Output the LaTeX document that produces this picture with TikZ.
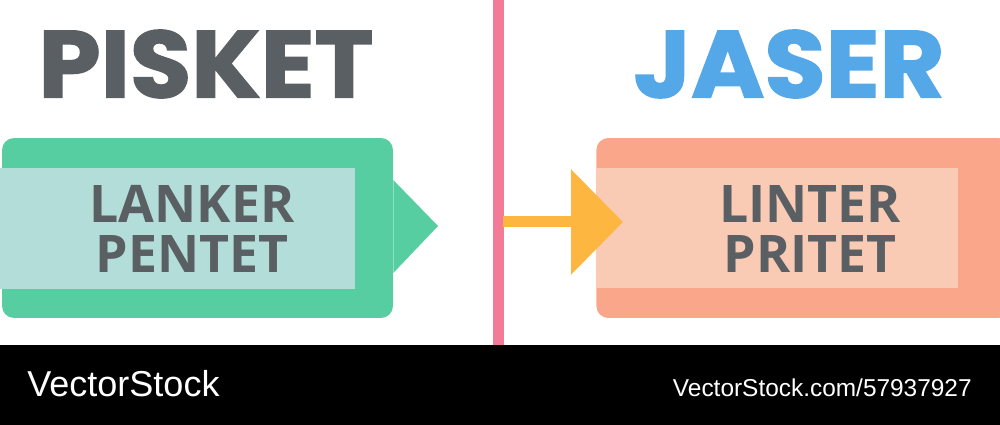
\documentclass[tikz,border=0pt]{standalone}
\usepackage{fontspec}
\setmainfont{Poppins}
\newfontfamily\titlefont{Poppins}[FakeBold=1.6]
\newfontfamily\boxfont{Open Sans}
\newfontfamily\stockfont{Liberation Sans}
\usetikzlibrary{positioning, arrows.meta}

\definecolor{inkgray}{HTML}{5A5F63}
\definecolor{jaserblue}{HTML}{55A8E8}
\definecolor{dividerpink}{HTML}{F47B98}
\definecolor{tabgreen}{HTML}{56CEA2}
\definecolor{tabteal}{HTML}{B3DDD8}
\definecolor{boxsalmon}{HTML}{F9A68A}
\definecolor{boxpeach}{HTML}{FACBB4}
\definecolor{arrowyellow}{HTML}{FDB63F}

\newcommand{\wide}[1]{\scalebox{1.05}[1]{#1}}

\begin{document}
\begin{tikzpicture}[%
    x=0.02cm, y=-0.02cm,        % one unit is one pixel of the sketch
    >={Triangle[length=1.04cm, width=2.06cm]},
    ]

\tikzset{
  title/.style={inner sep=0pt, font=\titlefont\bfseries\fontsize{54}{54}\selectfont},
  outerbox/.style={rounded corners=0.24cm, inner sep=0pt, minimum height=3.6cm},
  innerbox/.style={inner sep=0pt, minimum height=2.42cm},
  boxtext/.style={inner sep=0pt, align=center, text=inkgray,
    font=\boxfont\bfseries\fontsize{29.5}{28.5}\selectfont},
  arrowline/.style={draw=arrowyellow, fill=arrowyellow, line width=0.22cm}
  };

\useasboundingbox (0,0) rectangle (1000,425);

% bottom bar
\fill[black] (0,345) rectangle (1000,425);
\node[anchor=base west, inner sep=0pt, text=white,
  font=\stockfont\fontsize{20.5}{20.5}\selectfont] (stockname) at (27,396) {VectorStock};
\node[anchor=base east, inner sep=0pt, text=white,
  font=\stockfont\fontsize{13.9}{13.9}\selectfont] (stockref) at (972,396) {VectorStock.com/57937927};

% divider
\draw[dividerpink, line width=0.22cm] (498,0) -- (498,345);
\coordinate (split) at (503,222);

% titles
\node[title, text=inkgray] (pisket) at (206,64) {\wide{PISKET}};
\node[title, text=jaserblue] (jaser) at (789,64) {\wide{JASER}};

% left box
\node[outerbox, fill=tabgreen, minimum width=7.82cm] (pisketbox) at (197.5,228) {};
\fill[tabgreen] (pisketbox.east |- 0,180) -- (438,226) -- (pisketbox.east |- 0,273) -- cycle;
\node[innerbox, fill=tabteal, minimum width=7.1cm, anchor=west] (pisketin) at (0,228.5) {};
\node[boxtext] (lanker) at (192,229) {LANKER\\PENTET};

% right box
\node[outerbox, fill=boxsalmon, minimum width=8.28cm, anchor=west] (jaserbox) at (596,228) {};
\node[innerbox, fill=boxpeach, minimum width=7.24cm, anchor=west] (jaserin) at (596,228) {};
\node[boxtext] (linter) at (810,229) {LINTER\\PRITET};

% arrow over the divider
\draw[arrowline, ->, shorten >=-0.54cm] (split) -- (jaserbox.west |- split);

\end{tikzpicture}
\end{document}
